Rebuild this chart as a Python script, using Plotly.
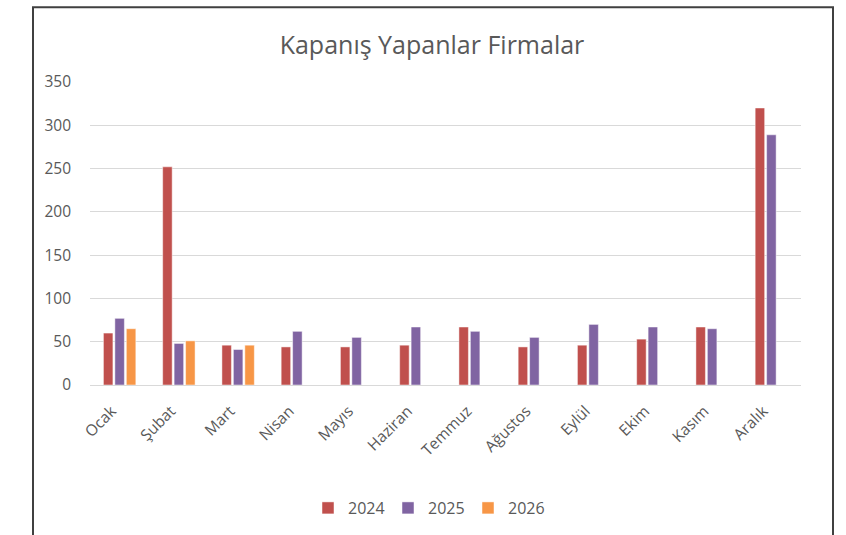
import plotly.graph_objects as go

months = ["Ocak", "Şubat", "Mart", "Nisan", "Mayıs", "Haziran", "Temmuz",
          "Ağustos", "Eylül", "Ekim", "Kasım", "Aralık"]
y2024 = [60, 252, 46, 44, 44, 46, 67, 44, 46, 53, 67, 320]
y2025 = [77, 48, 41, 62, 55, 67, 62, 55, 70, 67, 65, 289]
y2026 = [65, 51, 46, None, None, None, None, None, None, None, None, None]
yticks = [0, 50, 100, 150, 200, 250, 300, 350]

colors = {"2024": "#C0504D", "2025": "#8064A2", "2026": "#F79646"}
font_family = "Open Sans, Noto Sans, sans-serif"

fig = go.Figure()
for name, vals in [("2024", y2024), ("2025", y2025), ("2026", y2026)]:
    fig.add_trace(go.Bar(
        x=months, y=vals, name=name,
        marker=dict(color=colors[name], line=dict(color="rgba(255,255,255,0.6)", width=0.8)),
    ))

L, R, T, B = 90, 45, 82, 149
W, H = 846, 535
pw, ph = W - L - R, H - T - B

def px_x(p):
    return (p - L) / pw

def px_y(p):
    return (H - B - p) / ph

fig.update_layout(
    width=W, height=H,
    margin=dict(l=L, r=R, t=T, b=B, pad=0),
    paper_bgcolor="white", plot_bgcolor="white",
    barmode="group", bargap=0.42, bargroupgap=0.17,
    font=dict(family=font_family, color="#595959", size=15.5),
    title=dict(text="Kapanış Yapanlar Firmalar", x=432 / W, xanchor="center",
               y=1 - 45 / H, yanchor="middle",
               font=dict(size=25, color="#595959", family=font_family)),
    showlegend=True,
    legend=dict(orientation="h", x=px_x(428), xanchor="center", y=px_y(508), yanchor="middle",
                font=dict(size=16, color="#595959"), traceorder="normal",
                entrywidth=35, entrywidthmode="pixels"),
    xaxis=dict(tickangle=-45, showgrid=False, showline=True, linecolor="#D9D9D9",
               linewidth=1, ticks="", ticklabelstandoff=10, ticklabelshift=-8,
               tickfont=dict(size=15.5, color="#595959")),
    yaxis=dict(range=[0, 350], tickvals=yticks, showgrid=True, gridcolor="#D9D9D9",
               gridwidth=1, zeroline=True, zerolinecolor="#D9D9D9", zerolinewidth=1,
               ticks="", ticklabelstandoff=18, tickfont=dict(size=15.5, color="#595959")),
    shapes=[dict(type="rect", xref="paper", yref="paper",
                 x0=px_x(33), x1=px_x(833), y0=px_y(545), y1=px_y(7),
                 line=dict(color="#404040", width=2), fillcolor="rgba(0,0,0,0)", layer="above")],
)

fig.write_html("out.html", config={"displayModeBar": False},
               post_script="document.body.style.margin='0px';")
